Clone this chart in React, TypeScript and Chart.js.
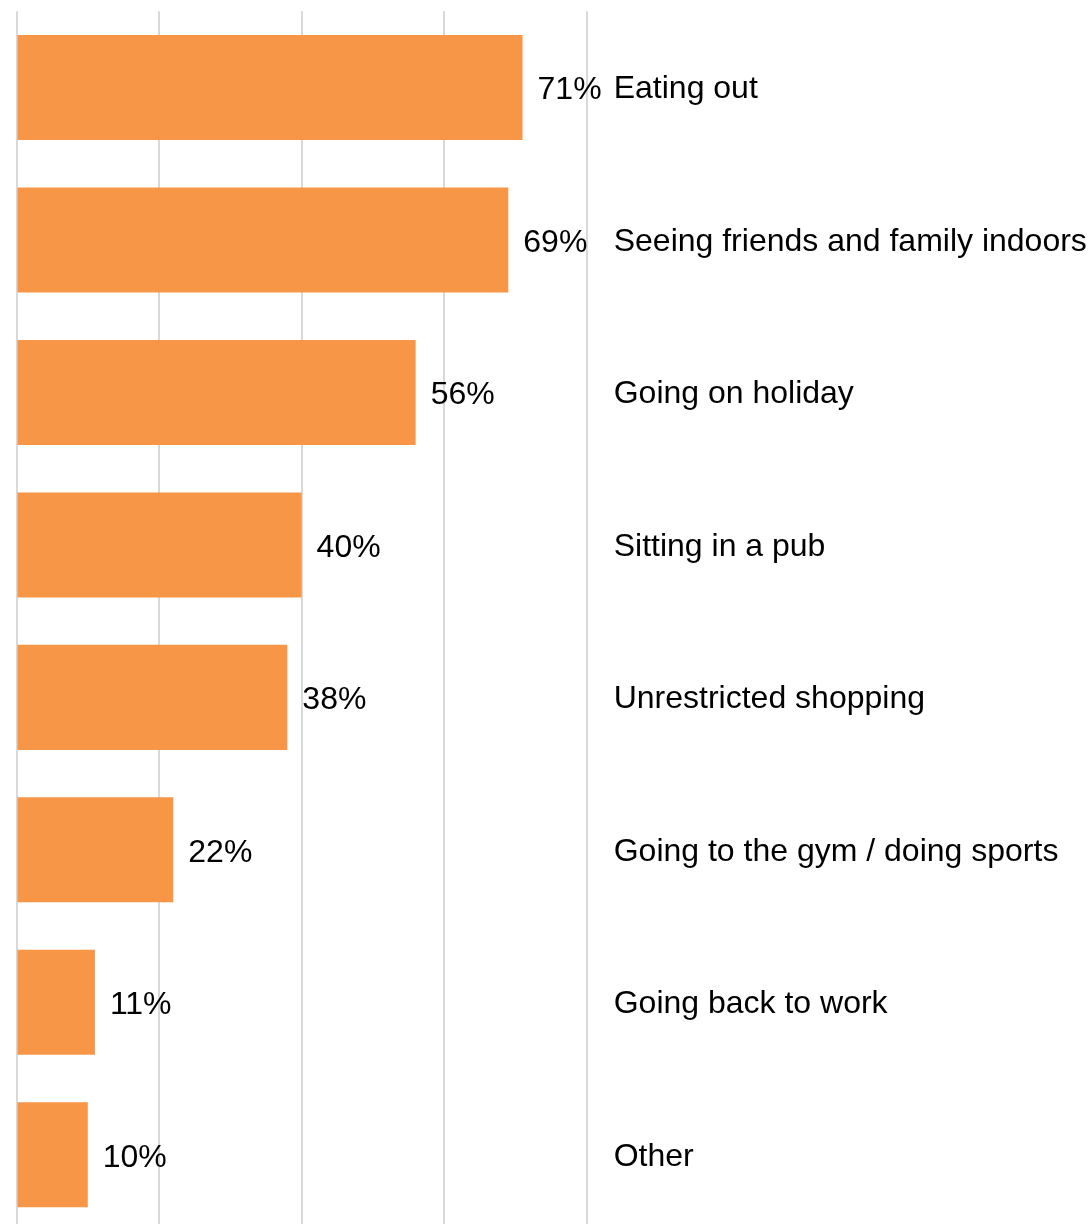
import React, { useEffect, useRef } from 'react';
import { Chart, registerables } from 'chart.js';

Chart.register(...registerables);

const categories = [
  'Eating out',
  'Seeing friends and family indoors',
  'Going on holiday',
  'Sitting in a pub',
  'Unrestricted shopping',
  'Going to the gym / doing sports',
  'Going back to work',
  'Other',
];
const values = [71, 69, 56, 40, 38, 22, 11, 10];
const xMin = 0;
const xMax = 80;
const xStep = 20;

const FONT = '"Liberation Sans", Arial, Helvetica, sans-serif';

export default function App() {
  const ref = useRef<HTMLCanvasElement>(null);

  useEffect(() => {
    const textLabels = {
      id: 'textLabels',
      afterDatasetsDraw(chart: any) {
        const ctx = chart.ctx;
        const meta = chart.getDatasetMeta(0);
        const yScale = chart.scales.y;
        ctx.save();
        ctx.font = `32px ${FONT}`;
        ctx.fillStyle = '#000000';
        ctx.textAlign = 'left';
        ctx.textBaseline = 'middle';
        meta.data.forEach((el: any, i: number) => {
          ctx.fillText(values[i] + '%', el.x + 15, el.y + 3);
          ctx.fillText(categories[i], yScale.left + 27, yScale.getPixelForValue(i) + 2);
        });
        ctx.restore();
      },
    };

    const chart = new Chart(ref.current!, {
      type: 'bar',
      data: {
        labels: categories,
        datasets: [
          {
            data: values,
            backgroundColor: '#F79646',
            borderWidth: 0,
            barPercentage: 0.689,
            categoryPercentage: 1,
          },
        ],
      },
      options: {
        indexAxis: 'y',
        responsive: false,
        animation: false,
        devicePixelRatio: 1,
        layout: { padding: { left: 16.5, top: 11.3, right: 0, bottom: 0 } },
        plugins: {
          legend: { display: false },
          tooltip: { enabled: false },
        },
        scales: {
          x: {
            min: xMin,
            max: xMax,
            position: 'bottom',
            ticks: { display: false, stepSize: xStep },
            grid: { color: '#d9d9d9', lineWidth: 2, drawTicks: false },
            border: { display: false },
            afterFit(axis: any) {
              axis.height = 0;
              axis.paddingLeft = 0;
              axis.paddingRight = 0;
            },
          },
          y: {
            position: 'right',
            grid: { display: false, drawTicks: false },
            border: { display: false },
            ticks: { display: false, autoSkip: false },
            afterFit(axis: any) {
              axis.width = 1091 - 586.7;
              axis.paddingTop = 0;
              axis.paddingBottom = 0;
            },
          },
        },
      },
      plugins: [textLabels],
    });
    return () => chart.destroy();
  }, []);

  return (
    <div
      style={{
        position: 'fixed',
        left: 0,
        top: 0,
        width: 1091,
        height: 1224,
        overflow: 'hidden',
        background: '#ffffff',
      }}
    >
      <canvas ref={ref} width={1091} height={1231} style={{ width: 1091, height: 1231, display: 'block' }} />
    </div>
  );
}
